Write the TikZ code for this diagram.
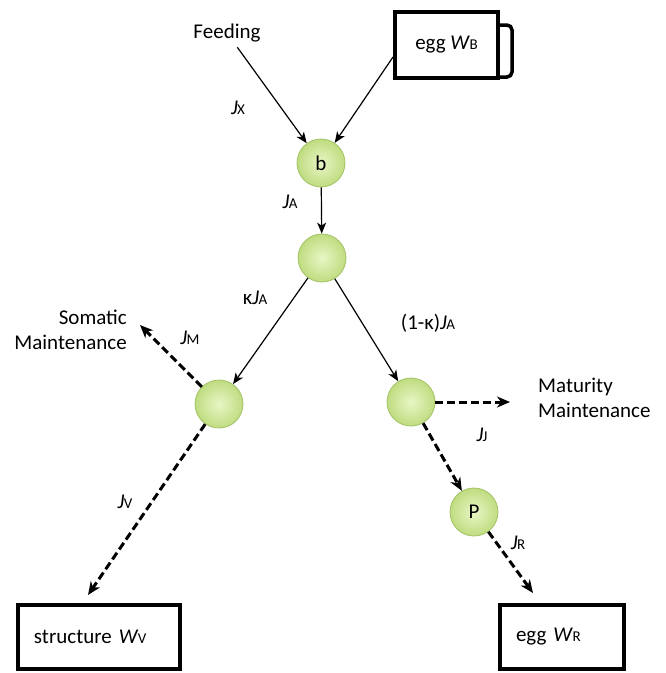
\documentclass[tikz,border=0pt]{standalone}
\usepackage{fontspec}
\setmainfont{Carlito}
\usetikzlibrary{arrows.meta}
\newcommand{\fl}[1]{\textit{J}\kern-0.5pt{\fontsize{15}{15}\selectfont #1}}
\newcommand{\wt}[1]{\textit{W}\kern-0.5pt{\fontsize{15}{15}\selectfont #1}}
\definecolor{ballin}{HTML}{E9F6C6}
\definecolor{ballout}{HTML}{BFDC80}
\definecolor{ballrim}{HTML}{A3C266}

\begin{document}
\begin{tikzpicture}[x=1pt,y=-1pt,font=\fontsize{21}{25}\selectfont,
     ball/.style={circle,minimum size=48pt,inner sep=0pt,draw=ballrim,line width=0.8pt,
      inner color=ballin,outer color=ballout},
     pool/.style={draw,line width=4pt,inner xsep=16pt,align=left,minimum height=64pt},
     flow/.style={-{Stealth[length=11pt,width=9pt,inset=3pt]},line width=1.2pt},
     dflow/.style={-{Stealth[length=13pt,width=11pt,inset=4pt]},line width=3pt,
      dash pattern=on 8pt off 4pt}]
     \useasboundingbox (0,0) rectangle (666,673);
     \node[ball] (b)   at (321,163) {b};
     \node[ball] (mid) at (322,258) {};
     \node[ball] (lc)  at (219,404) {};
     \node[ball] (rc)  at (411,402) {};
     \node[ball] (p)   at (474,512) {P};
     \node (feed) at (227,33) {Feeding};
     \node[pool,align=center,minimum width=103pt,minimum height=66pt] (wb) at (446.5,45) {egg \wt{B}};
     \node[pool,text width=130pt] (sv) at (99,637) {structure \wt{V}};
     \node[pool,text width=92pt]  (wr) at (562,637) {egg \wt{R}};
     \node[inner sep=1pt,align=right,anchor=east] (som) at (128,330) {Somatic\\Maintenance};
     \node[inner sep=1pt,align=left,anchor=west]  (mat) at (537,398) {Maturity\\Maintenance};
     \draw[line width=3.5pt,rounded corners=5pt]
      ([yshift=-15pt]wb.north east) -- ++(12,0) -- ++(0,52) -- ++(-12,0);
     \draw[flow,shorten <=2pt] (feed) -- (b);
     \draw[flow] ([yshift=-12pt]wb.west) -- (b);
     \draw[flow] (b) -- (mid);
     \draw[flow] (mid) -- (lc);
     \draw[flow] (mid) -- (rc);
     \coordinate (somtip) at (140,325);
     \coordinate (mattip) at (510,402);
     \draw[dflow] (lc) -- (somtip);
     \draw[dflow] (lc) -- ([xshift=-11pt,yshift=8pt]sv.north);
     \draw[dflow] (rc) -- (mattip);
     \draw[dflow] (rc) -- (p);
     \draw[dflow] (p) -- ([xshift=-29pt,yshift=10pt]wr.north);
     \foreach \n/\x/\y/\t in {jx/238/108/{\fl{X}}, ja/290/202/{\fl{A}},
      kja/255/298/{κ\fl{A}}, qja/428/323/{(1-κ)\fl{A}}, jm/190/338/{\fl{M}},
      jv/125/502/{\fl{V}}, jj/482/435/{\fl{J}}, jr/518/543/{\fl{R}}}
      \node (\n) at (\x,\y) {\t};
    \end{tikzpicture}
\end{document}
